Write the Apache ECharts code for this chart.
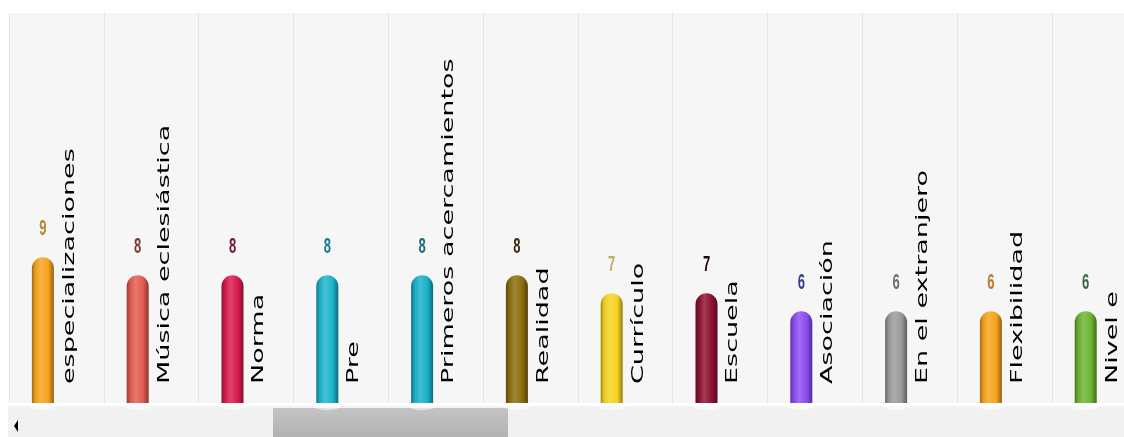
<!DOCTYPE html>
<html>
<head>
<meta charset="utf-8">
<script src="https://cdn.jsdelivr.net/npm/echarts@6/dist/echarts.min.js"></script>
<style>
	html, body { margin: 0; padding: 0; background: #fff; overflow: hidden; }
	#chart { width: 1150px; height: 437px; }
</style>
</head>
<body>
<div id="chart"></div>
<script>
var categories = ['especializaciones', 'Música eclesiástica', 'Norma', 'Pre', 'Primeros acercamientos', 'Realidad', 'Currículo', 'Escuela', 'Asociación', 'En el extranjero', 'Flexibilidad', 'Nivel e']
var values = [9, 8, 8, 8, 8, 8, 7, 7, 6, 6, 6, 6]

// colores de cada barra y de su numero
var barColors = ['#f5a21c', '#e25a50', '#d81a4c', '#1bb3cb', '#18b0c8', '#8c6c0a', '#f7d321', '#8e1030', '#8c4cf2', '#9a9a9a', '#f7a21c', '#6cb431']
var labelColors = ['#b8892a', '#7a3a30', '#6a2030', '#1a7a90', '#1a6a80', '#3a3010', '#c0b060', '#1a0a0a', '#3a3a90', '#707070', '#c07a30', '#3a6a40']

var yMin = 0.9
var yMax = 22.57

function shade(hex, amt){
	let r = parseInt(hex.substr(1,2),16)
	let g = parseInt(hex.substr(3,2),16)
	let b = parseInt(hex.substr(5,2),16)
	let t = amt < 0 ? 0 : 255
	let p = Math.abs(amt)
	r = Math.round(r + (t - r) * p)
	g = Math.round(g + (t - g) * p)
	b = Math.round(b + (t - b) * p)
	return 'rgb(' + r + ',' + g + ',' + b + ')'
}

function renderBar(params, api){
	let i = api.value(0)
	let v = api.value(1)
	let top = api.coord([i, v])
	let base = api.coord([i, yMin])
	let cx = top[0] - 13.5
	let w = 22
	let c = barColors[i]
	return {
		type: 'group',
		children: [
			{
				type: 'ellipse',
				shape: {cx: cx, cy: base[1] + 3, rx: 14, ry: 4},
				style: {fill: 'rgba(255,255,255,0.55)'}
			},
			{
				type: 'rect',
				shape: {x: cx - w/2, y: top[1], width: w, height: base[1] - top[1], r: [11, 11, 0, 0]},
				style: {
					fill: {
						type: 'linear', x: 0, y: 0, x2: 1, y2: 0,
						colorStops: [
							{offset: 0, color: shade(c, -0.35)},
							{offset: 0.15, color: shade(c, -0.05)},
							{offset: 0.4, color: shade(c, 0.18)},
							{offset: 0.75, color: c},
							{offset: 1, color: shade(c, -0.4)}
						]
					}
				}
			},
			{
				type: 'text',
				x: cx,
				y: top[1] - 28,
				scaleY: 1.7,
				style: {
					text: String(v),
					fill: labelColors[i],
					font: 'bold 13px "Liberation Sans"',
					align: 'center',
					verticalAlign: 'middle'
				}
			},
			{
				type: 'text',
				x: cx + 27,
				y: base[1] - 19,
				rotation: Math.PI / 2,
				scaleX: 1.8,
				style: {
					text: categories[i],
					fill: '#000',
					font: '15px "DejaVu Sans"',
					align: 'left',
					verticalAlign: 'middle'
				}
			}
		]
	}
}

var chart = echarts.init(document.getElementById('chart'))
var option = {
	backgroundColor: '#fff',
	animation: false,
	grid: {
		left: 9,
		top: 13,
		width: 1137.6,
		height: 390,
		show: true,
		backgroundColor: '#f6f6f6',
		borderWidth: 0
	},
	xAxis: {
		type: 'category',
		data: categories,
		axisLine: {show: false},
		axisTick: {show: false},
		axisLabel: {show: false},
		splitLine: {show: true, interval: 0, lineStyle: {color: '#e4e4e4', width: 1}}
	},
	yAxis: {
		type: 'value',
		min: yMin,
		max: yMax,
		show: false,
		splitLine: {show: false}
	},
	// barra de desplazamiento
	graphic: [
		{type: 'rect', left: 8, top: 406, z: 0, shape: {width: 1150, height: 31}, style: {fill: '#f1f1f1'}},
		{type: 'rect', left: 273, top: 408, z: 0, shape: {width: 235, height: 29},
			style: {fill: {type: 'linear', x: 0, y: 0, x2: 0, y2: 1, colorStops: [{offset: 0, color: '#c4c4c4'}, {offset: 1, color: '#b2b2b2'}]}}},
		{type: 'polygon', z: 0, shape: {points: [[14, 426], [18, 420], [18, 432]]}, style: {fill: '#000'}}
	],
	series: [{
		type: 'custom',
		z: 5,
		renderItem: renderBar,
		encode: {x: 0, y: 1},
		data: values.map(function(v, i){ return [i, v] })
	}]
}
chart.setOption(option)
</script>
</body>
</html>
